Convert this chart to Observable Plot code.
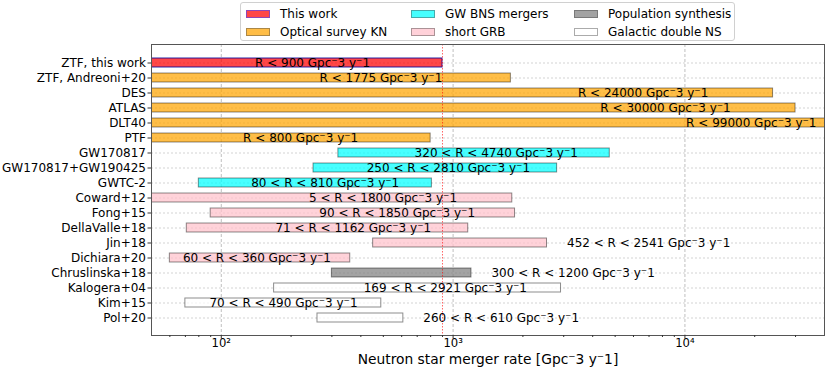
<!DOCTYPE html>
<html>
<head>
<meta charset="utf-8">
<script src="https://cdn.jsdelivr.net/npm/d3@7"></script>
<script src="https://cdn.jsdelivr.net/npm/@observablehq/plot@0.6"></script>
<style>
  body { margin: 0; background: #fff; font-family: "DejaVu Sans", sans-serif; }
  #wrap { position: relative; width: 830px; }
  #legend { position: relative; height: 43px; }
  #legendBox { position: absolute; left: 240px; top: 2px; width: 495px; height: 39px; border: 1px solid #d0d0d0; border-radius: 3px; box-sizing: border-box; }
  .item { position: absolute; font-size: 12px; line-height: 14px; color: #000; white-space: nowrap; }
  .sw { position: absolute; width: 24px; height: 8px; box-sizing: border-box; border: 1px solid rgba(0,0,0,0.45); }
</style>
</head>
<body>
<div id="wrap">
  <div id="legend"><div id="legendBox"></div></div>
  <div id="chart"></div>
</div>
<script>
// ---- data ----
const names = ["ZTF, this work","ZTF, Andreoni+20","DES","ATLAS","DLT40","PTF","GW170817","GW170817+GW190425","GWTC-2","Coward+12","Fong+15","DellaValle+18","Jin+18","Dichiara+20","Chruslinska+18","Kalogera+04","Kim+15","Pol+20"];
const lower = [null, null, null, null, null, null, 320, 250, 80, 5, 90, 71, 452, 60, 300, 169, 70, 260];
const upper = [900, 1775, 24000, 30000, 99000, 800, 4740, 2810, 810, 1800, 1850, 1162, 2541, 360, 1200, 2921, 490, 610];
const groups = ["This work","Optical survey KN","Optical survey KN","Optical survey KN","Optical survey KN","Optical survey KN","GW BNS mergers","GW BNS mergers","GW BNS mergers","short GRB","short GRB","short GRB","short GRB","short GRB","Population synthesis","Galactic double NS","Galactic double NS","Galactic double NS"];
const outsideLabels = ["Jin+18","Chruslinska+18","Pol+20"];
const legendOrder = ["This work","Optical survey KN","GW BNS mergers","short GRB","Population synthesis","Galactic double NS"];
const groupColors = ["red","orange","cyan","pink","gray","white"];
const xDomain = [50, 40000];
const xTicks = [100, 1000, 10000];
const xTickLabels = ["10\u00B2","10\u00B3","10\u2074"];
const unit = "Gpc\u207B3 y\u207B1";
const xLabel = "Neutron star merger rate [" + unit + "]";

// ---- derived ----
const rows = names.map((name, i) => ({name, lo: lower[i], hi: upper[i], group: groups[i]}));
const minorTicks = [];
for (let e = 1; e <= 4; e++) for (let m = 2; m <= 9; m++) {
  const v = m * 10 ** e;
  if (v > xDomain[0] && v < xDomain[1] && !xTicks.includes(v)) minorTicks.push(v);
}
const labelText = d => (d.lo == null ? "R < " + d.hi : d.lo + " < R < " + d.hi) + " " + unit;
const lo0 = d => d.lo == null ? 0 : d.lo;
const isOutside = d => outsideLabels.includes(d.name);
const isOverflow = d => !isOutside(d) && d.hi > xDomain[1];
const isInside = d => !isOutside(d) && !isOverflow(d);

// ---- legend ----
const box = document.getElementById("legendBox");
const colX = [5, 170, 333];
const rowY = [4, 22];
legendOrder.forEach((g, i) => {
  const c = Math.floor(i / 2), r = i % 2;
  const sw = document.createElement("div");
  sw.className = "sw";
  sw.style.left = colX[c] + "px";
  sw.style.top = (rowY[r] + 3) + "px";
  sw.style.background = groupColors[i];
  sw.style.opacity = 0.72;
  if (g === "This work") sw.style.borderColor = "rgba(0,0,255,0.6)";
  box.appendChild(sw);
  const t = document.createElement("div");
  t.className = "item";
  t.style.left = (colX[c] + 34) + "px";
  t.style.top = rowY[r] + "px";
  t.textContent = g;
  box.appendChild(t);
});

// ---- chart ----
const H = 328;
const FS = 12;
const chart = Plot.plot({
  width: 830,
  height: H,
  marginLeft: 151,
  marginRight: 6,
  marginTop: 1,
  marginBottom: 36,
  style: {fontFamily: "DejaVu Sans", fontSize: FS + "px", color: "#000", background: "#fff"},
  x: {type: "log", domain: xDomain},
  y: {type: "band", domain: names, range: [11.1, 283.9], paddingInner: 0.37, paddingOuter: 0.185},
  color: {domain: legendOrder, range: groupColors},
  marks: [
    Plot.gridY({stroke: "#c0c0c0", strokeOpacity: 1, strokeDasharray: "2,2", strokeWidth: 0.7}),
    Plot.gridX(xTicks, {stroke: "#b0b0b0", strokeOpacity: 1, strokeDasharray: "3,2", strokeWidth: 0.8}),
    Plot.barX(rows, {y: "name", x1: d => d.lo == null ? xDomain[0] : d.lo, x2: "hi", fill: "group", fillOpacity: 0.72,
      stroke: "#000", strokeOpacity: 0.45, strokeWidth: 1, clip: true}),
    Plot.barX(rows.filter(d => d.group === "This work"), {y: "name", x1: d => d.lo == null ? xDomain[0] : d.lo, x2: "hi",
      fill: "none", stroke: "blue", strokeOpacity: 0.5, strokeWidth: 1, clip: true}),
    Plot.ruleX([upper[0]], {stroke: "red", strokeOpacity: 0.6, strokeDasharray: "1.5,1.5", strokeWidth: 1}),
    Plot.text(rows.filter(isInside), {y: "name", x: d => lo0(d) + 0.275 * (d.hi - lo0(d)), text: labelText, textAnchor: "middle", fill: "#000", fontSize: FS}),
    Plot.text(rows.filter(isOverflow), {y: "name", x: xDomain[1], text: labelText, textAnchor: "end", dx: -8, fill: "#000", fontSize: FS}),
    Plot.text(rows.filter(isOutside), {y: "name", x: "hi", text: labelText, textAnchor: "start", dx: 20, fill: "#000", fontSize: FS}),
    Plot.frame({stroke: "#555", strokeWidth: 1}),
    Plot.axisY({tickSize: 3.5, tickPadding: 2, label: null, fontSize: FS, stroke: "#333"}),
    Plot.axisX(xTicks, {tickSize: 3.5, tickPadding: 0, tickFormat: d => xTickLabels[xTicks.indexOf(d)], label: null, fontSize: 11.6, stroke: "#333"}),
    Plot.axisX(minorTicks, {tickSize: 2, tickFormat: () => "", label: null, stroke: "#333"}),
    Plot.text([xLabel], {frameAnchor: "bottom", dy: 19, lineAnchor: "top", text: d => d, fontSize: 13.8, fill: "#000"})
  ]
});
document.getElementById("chart").appendChild(chart);
</script>
</body>
</html>
